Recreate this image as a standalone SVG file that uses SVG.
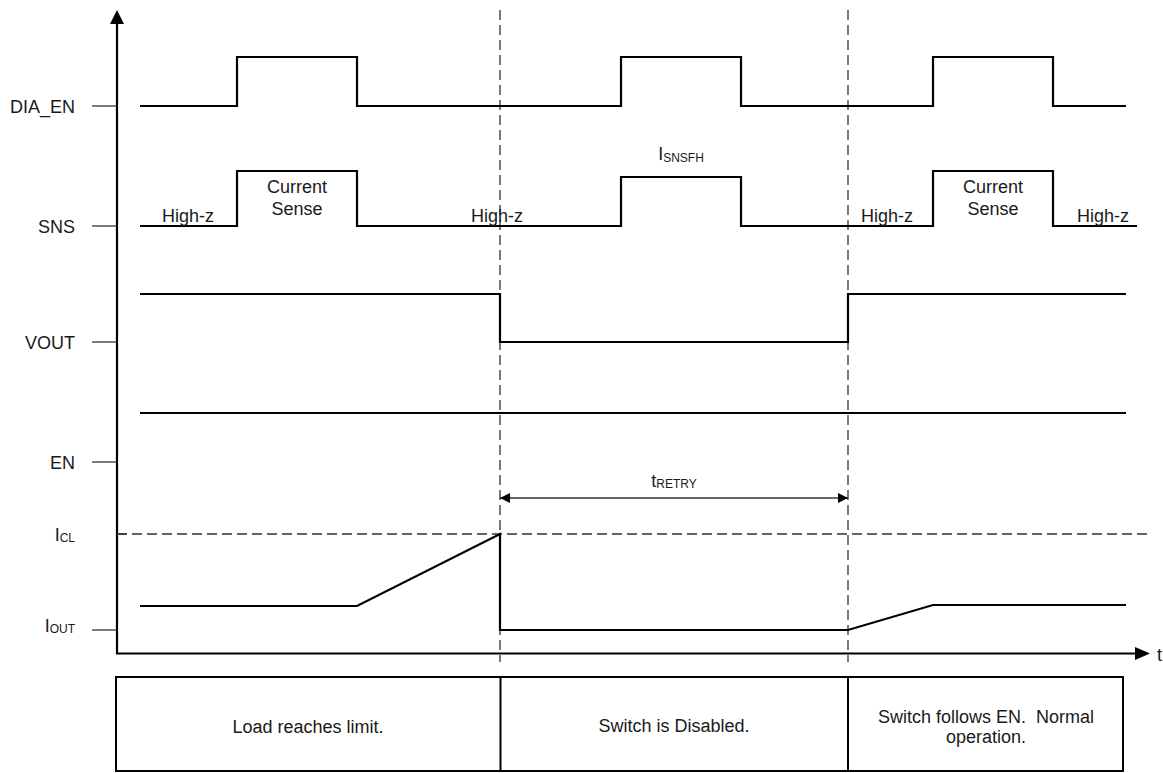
<svg xmlns="http://www.w3.org/2000/svg" width="1163" height="773" viewBox="0 0 1163 773">
<defs>
<style>
text{font-family:"Liberation Sans",Arial,Helvetica,sans-serif;font-size:18px;fill:#1a1a1a}
.lbl{text-anchor:end}
.mid{text-anchor:middle}
.sub{font-size:12px}
.sig{fill:none;stroke:#000;stroke-width:2.2;stroke-linejoin:miter}
.tick{stroke:#333;stroke-width:1.3}
.dash{fill:none;stroke:#333;stroke-width:1.3;stroke-dasharray:10 5}
.axis{fill:none;stroke:#000;stroke-width:2.2}
.box{fill:none;stroke:#000;stroke-width:2}
</style>
<marker id="ah" viewBox="0 0 10 10" refX="10" refY="5" markerWidth="12" markerHeight="10" markerUnits="userSpaceOnUse" orient="auto-start-reverse">
<path d="M0,0 L10,5 L0,10 Z" fill="#000"/>
</marker>
</defs>
<rect width="1163" height="773" fill="#fff"/>

<g id="axes">
<polyline class="axis" points="117,22 117,653.5 1137,653.5"/>
<path d="M117,10 L124,24 L110,24 Z" fill="#000"/>
<path d="M1150,653.5 L1135,647 L1135,660 Z" fill="#000"/>
<text x="1157" y="661">t</text>
</g>

<g id="guides">
<line class="dash" x1="500" y1="10" x2="500" y2="662"/>
<line class="dash" x1="848" y1="10" x2="848" y2="662"/>
<line class="dash" x1="117" y1="534" x2="1147" y2="534"/>
</g>

<g id="dia_en">
<line class="tick" x1="92" y1="106" x2="117" y2="106"/>
<text class="lbl" x="75" y="112.5">DIA_EN</text>
<polyline class="sig" points="140,106 237,106 237,57 357,57 357,106 621,106 621,57 741,57 741,106 933,106 933,57 1053,57 1053,106 1126,106"/>
</g>

<g id="sns">
<line class="tick" x1="92" y1="226" x2="117" y2="226"/>
<text class="lbl" x="75" y="232.5">SNS</text>
<polyline class="sig" points="140,226 237,226 237,171 357,171 357,226 621,226 621,177 741,177 741,226 933,226 933,171 1053,171 1053,226 1137,226"/>
<text x="162" y="222">High-z</text>
<text x="471" y="222">High-z</text>
<text x="861" y="222">High-z</text>
<text x="1077" y="222">High-z</text>
<text class="mid" x="297" y="193">Current</text>
<text class="mid" x="297" y="215">Sense</text>
<text class="mid" x="993" y="193">Current</text>
<text class="mid" x="993" y="215">Sense</text>
<text class="mid" x="681" y="160">I<tspan class="sub" dy="2">SNSFH</tspan></text>
</g>

<g id="vout">
<line class="tick" x1="92" y1="342" x2="117" y2="342"/>
<text class="lbl" x="75" y="348.5">VOUT</text>
<polyline class="sig" points="140,294 500,294 500,342 848,342 848,294 1126,294"/>
</g>

<g id="en">
<line class="tick" x1="92" y1="462" x2="117" y2="462"/>
<text class="lbl" x="75" y="468.5">EN</text>
<polyline class="sig" points="140,413 1126,413"/>
</g>

<g id="tretry">
<line stroke="#333" stroke-width="1.6" x1="500" y1="498" x2="848" y2="498" marker-start="url(#ah)" marker-end="url(#ah)"/>
<text class="mid" x="674" y="487">t<tspan class="sub" dy="1">RETRY</tspan></text>
</g>

<g id="iout">
<line class="tick" x1="117" y1="534" x2="127" y2="534"/>
<text class="lbl" x="75" y="541">I<tspan class="sub" dy="1">CL</tspan></text>
<line class="tick" x1="92" y1="630" x2="117" y2="630"/>
<text class="lbl" x="75" y="632">I<tspan class="sub" dy="1">OUT</tspan></text>
<polyline class="sig" points="140,606 357,606 500,534 500,630 848,630 933,605 1126,605"/>
</g>

<g id="phases">
<rect class="box" x="116" y="677" width="1007" height="94"/>
<line class="box" x1="500.5" y1="677" x2="500.5" y2="771"/>
<line class="box" x1="848" y1="677" x2="848" y2="771"/>
<text class="mid" x="308" y="733">Load reaches limit.</text>
<text class="mid" x="674" y="732">Switch is Disabled.</text>
<text class="mid" x="986" y="723">Switch follows EN.&#160; Normal</text>
<text class="mid" x="986" y="743">operation.</text>
</g>
</svg>
